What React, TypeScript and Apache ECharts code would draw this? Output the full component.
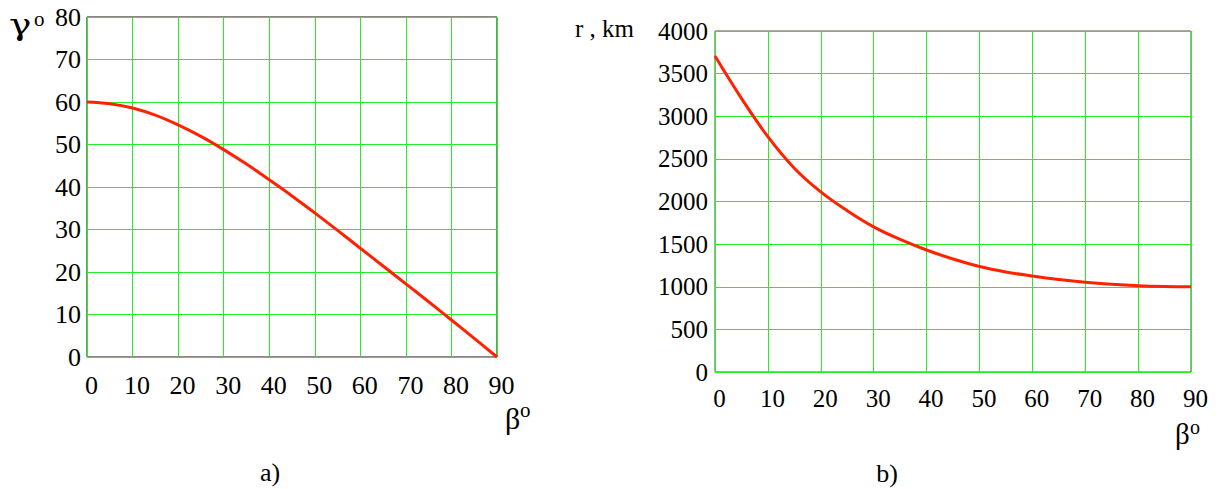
import React, { useEffect, useRef } from "react";
import * as echarts from "echarts";

const betaDeg = [0, 5, 10, 15, 20, 25, 30, 35, 40, 45, 50, 55, 60, 65, 70, 75, 80, 85, 90];
const gammaDeg = [60, 59.6, 58.6, 56.9, 54.6, 51.9, 48.8, 45.4, 41.7, 37.9, 33.9, 29.8, 25.6, 21.4, 17.2, 13.0, 8.7, 4.4, 0];
const rangeKm = [3706, 3210, 2760, 2390, 2112, 1892, 1702, 1555, 1431, 1325, 1238, 1174, 1126, 1085, 1052, 1029, 1013, 1004, 1000];

const xTicks = [0, 10, 20, 30, 40, 50, 60, 70, 80, 90];
const gammaTicks = [0, 10, 20, 30, 40, 50, 60, 70, 80];
const rangeTicks = [0, 500, 1000, 1500, 2000, 2500, 3000, 3500, 4000];

const FONT = "Liberation Serif";
const GREEK_FONT = "DejaVu Serif";
const GRID_GREEN = "#22f022";
const CURVE_RED = "#ff2200";

export default function App() {
  const ref = useRef<HTMLDivElement>(null);

  useEffect(() => {
    if (!ref.current) return;
    const chart = echarts.init(ref.current, undefined, { renderer: "svg" });

    const txt = (text: string, x: number, y: number, size: number, align = "left", scaleX = 1, family = FONT) => ({
      type: "text",
      x,
      y,
      scaleX,
      style: {
        text,
        fontFamily: family,
        fontSize: size,
        fill: "#000",
        align,
        verticalAlign: "middle",
      },
    });

    const xAxisBase = (gridIndex: number, margin: number, size: number) => ({
      type: "value",
      gridIndex,
      min: xTicks[0],
      max: xTicks[xTicks.length - 1],
      interval: 10,
      axisLine: { show: false },
      axisTick: { show: false },
      axisLabel: {
        fontFamily: FONT,
        fontSize: size,
        color: "#000",
        margin,
        padding: [0, 0, 0, 9],
        formatter: (v: number) => String(v),
      },
      splitLine: { show: true, lineStyle: { color: GRID_GREEN, width: 1 } },
    });

    const option: any = {
      animation: false,
      backgroundColor: "#fff",
      grid: [
        { left: 87, top: 17, width: 410, height: 340, show: true, borderColor: "#111", borderWidth: 1, backgroundColor: "transparent" },
        { left: 715, top: 31, width: 476, height: 341, show: true, borderColor: "#555", borderWidth: 1, backgroundColor: "transparent" },
      ],
      xAxis: [xAxisBase(0, 15, 26), xAxisBase(1, 14, 25)],
      yAxis: [
        {
          type: "value",
          gridIndex: 0,
          min: gammaTicks[0],
          max: gammaTicks[gammaTicks.length - 1],
          interval: 10,
          axisLine: { show: false },
          axisTick: { show: false },
          axisLabel: { fontFamily: FONT, fontSize: 26, color: "#000", margin: 6, padding: [8, 0, 0, 0], formatter: (v: number) => String(v) },
          splitLine: { show: true, lineStyle: { color: GRID_GREEN, width: 1 } },
        },
        {
          type: "value",
          gridIndex: 1,
          min: rangeTicks[0],
          max: rangeTicks[rangeTicks.length - 1],
          interval: 500,
          axisLine: { show: false },
          axisTick: { show: false },
          axisLabel: { fontFamily: FONT, fontSize: 25, color: "#000", margin: 7, padding: [8, 0, 0, 0], formatter: (v: number) => String(v) },
          splitLine: { show: true, lineStyle: { color: GRID_GREEN, width: 1 } },
        },
      ],
      series: [
        {
          type: "line",
          xAxisIndex: 0,
          yAxisIndex: 0,
          data: betaDeg.map((b, i) => [b, gammaDeg[i]]),
          smooth: 0.4,
          showSymbol: false,
          lineStyle: { color: CURVE_RED, width: 3 },
          clip: false,
        },
        {
          type: "line",
          xAxisIndex: 1,
          yAxisIndex: 1,
          data: betaDeg.map((b, i) => [b, rangeKm[i]]),
          smooth: 0.4,
          showSymbol: false,
          lineStyle: { color: CURVE_RED, width: 3 },
          clip: false,
        },
      ],
      graphic: [
        txt("γ", 9, 24, 30, "left", 1.25, GREEK_FONT),
        txt("o", 34, 19, 21),
        txt("β", 505, 418, 30),
        txt("o", 520, 410, 21),
        txt("β", 1175, 434, 29),
        txt("o", 1190, 427, 20),
        txt("r , km", 575, 28, 25),
        txt("a)", 270, 472, 26, "center"),
        txt("b)", 887, 473, 26, "center"),
      ],
    };

    chart.setOption(option);
    return () => chart.dispose();
  }, []);

  return (
    <div
      ref={ref}
      style={{ position: "fixed", left: 0, top: 0, width: 1220, height: 489, background: "#fff" }}
    />
  );
}
